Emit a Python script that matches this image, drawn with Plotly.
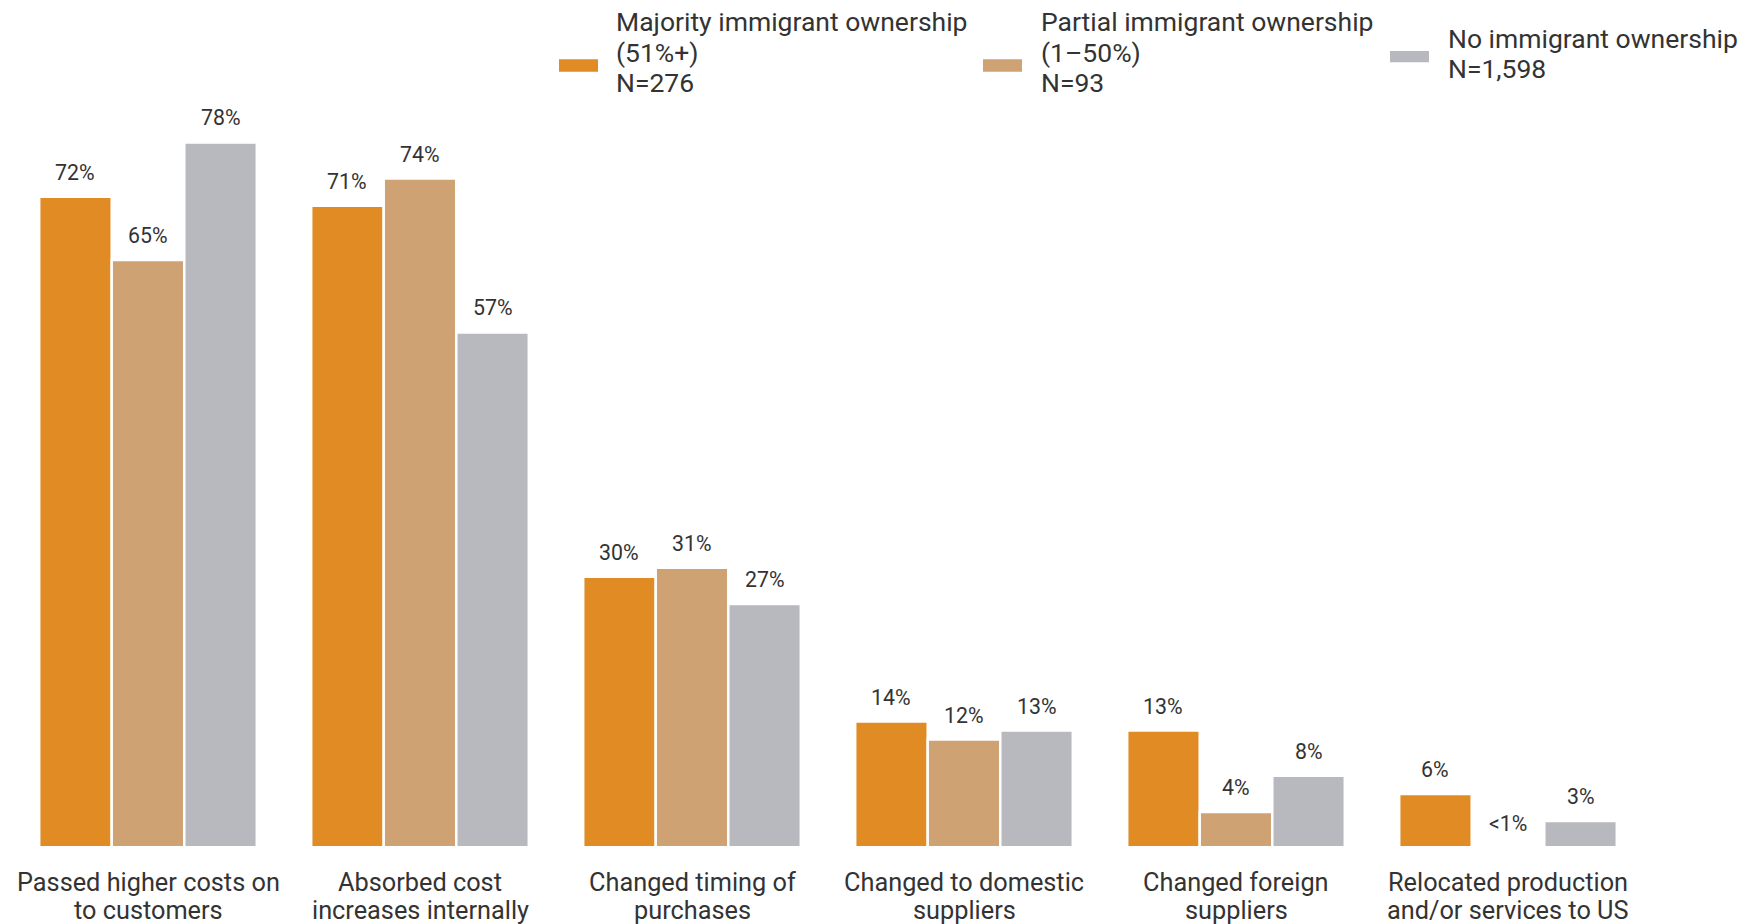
import plotly.graph_objects as go

# ---------------- data ----------------
categories = [
    "Passed higher costs on<br>to customers",
    "Absorbed cost<br>increases internally",
    "Changed timing of<br>purchases",
    "Changed to domestic<br>suppliers",
    "Changed foreign<br>suppliers",
    "Relocated production<br>and/or services to US",
]
series_names = [
    "Majority immigrant ownership<br>(51%+)<br>N=276",
    "Partial immigrant ownership<br>(1–50%)<br>N=93",
    "No immigrant ownership<br>N=1,598",
]
majority = [72, 71, 30, 14, 13, 6]
partial = [65, 74, 31, 12, 4, 0]
no_immigrant = [78, 57, 27, 13, 8, 3]

majority_labels = ["72%", "71%", "30%", "14%", "13%", "6%"]
partial_labels = ["65%", "74%", "31%", "12%", "4%", "<1%"]
no_immigrant_labels = ["78%", "57%", "27%", "13%", "8%", "3%"]

colors = ["#E18B25", "#CFA273", "#B8B9BE"]
text_color = "#333333"
FONT = "Roboto"

series_values = [majority, partial, no_immigrant]
series_labels = [majority_labels, partial_labels, no_immigrant_labels]

# ---------------- layout geometry ----------------
PAGE_OFF = 0                      # body margin removed via post_script
W, H = 1749 - PAGE_OFF, 924 - PAGE_OFF
ML, MR, MT, MB = 12 - PAGE_OFF, 105, 100 - PAGE_OFF, 78
PW = W - ML - MR
PH = H - MT - MB
PX_PER_UNIT = 9.048
Y0 = 0.24
Y1 = Y0 + PH / PX_PER_UNIT
BARGAP = 0.2
LABEL_SHIFT = 24.5

fig = go.Figure()
for name, vals, col in zip(series_names, series_values, colors):
    fig.add_trace(go.Bar(
        x=list(range(len(categories))), y=vals, name=name,
        marker=dict(color=col, line=dict(color="white", width=2.5)),
        showlegend=False, hoverinfo="skip",
    ))

annotations = []
n = len(series_values)
bw = (1 - BARGAP) / n
for k, (vals, labs) in enumerate(zip(series_values, series_labels)):
    off = (k - (n - 1) / 2) * bw
    for i, (v, lab) in enumerate(zip(vals, labs)):
        anchor_y = max(v, Y0)  # keep the anchor inside the axis range
        annotations.append(dict(
            x=i + off, y=anchor_y, xref="x", yref="y", text=lab, showarrow=False,
            yanchor="middle", xanchor="center",
            yshift=LABEL_SHIFT - (anchor_y - v) * PX_PER_UNIT,
            font=dict(family=FONT, size=21.3, color=text_color),
        ))


def px_x(p):  # page pixel -> paper x
    return (p - PAGE_OFF - ML) / PW


def px_y(p):  # page pixel -> paper y
    return (H - MB - (p - PAGE_OFF)) / PH


# category labels, one annotation per line
tick_line_centers = [883, 910]
for i, cat in enumerate(categories):
    for line, yc in zip(cat.split("<br>"), tick_line_centers):
        annotations.append(dict(
            x=i, y=px_y(yc), xref="x", yref="paper", text=line, showarrow=False,
            xanchor="center", yanchor="middle",
            font=dict(family=FONT, size=25.3, color=text_color),
        ))

# custom legend (swatch + multi-line text)
legend_items = [
    # swatch x0, x1, y0, y1, text x, line centers
    (559, 598, 59.3, 71.7, 614, [22, 52.3, 82.7]),
    (983, 1022, 59.3, 71.7, 1039, [22, 52.3, 82.7]),
    (1390, 1429, 51, 62.3, 1446, [38.7, 68.7]),
]
shapes = []
for (x0, x1, y0, y1, tx, centers), name, col in zip(legend_items, series_names, colors):
    shapes.append(dict(
        type="rect", xref="paper", yref="paper",
        x0=px_x(x0), x1=px_x(x1), y0=px_y(y1), y1=px_y(y0),
        fillcolor=col, line=dict(width=0),
    ))
    for line, yc in zip(name.split("<br>"), centers):
        annotations.append(dict(
            x=px_x(tx), y=px_y(yc), xref="paper", yref="paper", text=line,
            showarrow=False, xanchor="left", yanchor="middle", align="left",
            font=dict(family=FONT, size=26.5, color=text_color),
        ))

fig.update_layout(
    width=W, height=H,
    margin=dict(l=ML, r=MR, t=MT, b=MB, pad=0),
    paper_bgcolor="white", plot_bgcolor="white",
    barmode="group", bargap=BARGAP, bargroupgap=0,
    font=dict(family=FONT, color=text_color),
    xaxis=dict(
        range=[-0.5, len(categories) - 0.5], showticklabels=False,
        showgrid=False, zeroline=False, showline=False, ticks="",
    ),
    yaxis=dict(range=[Y0, Y1], visible=False, showgrid=False, zeroline=False),
    annotations=annotations,
    shapes=shapes,
)

fig.write_html(
    "out.html",
    config={"displayModeBar": False},
    post_script="document.body.style.margin='0';document.body.style.overflow='hidden';",
)
